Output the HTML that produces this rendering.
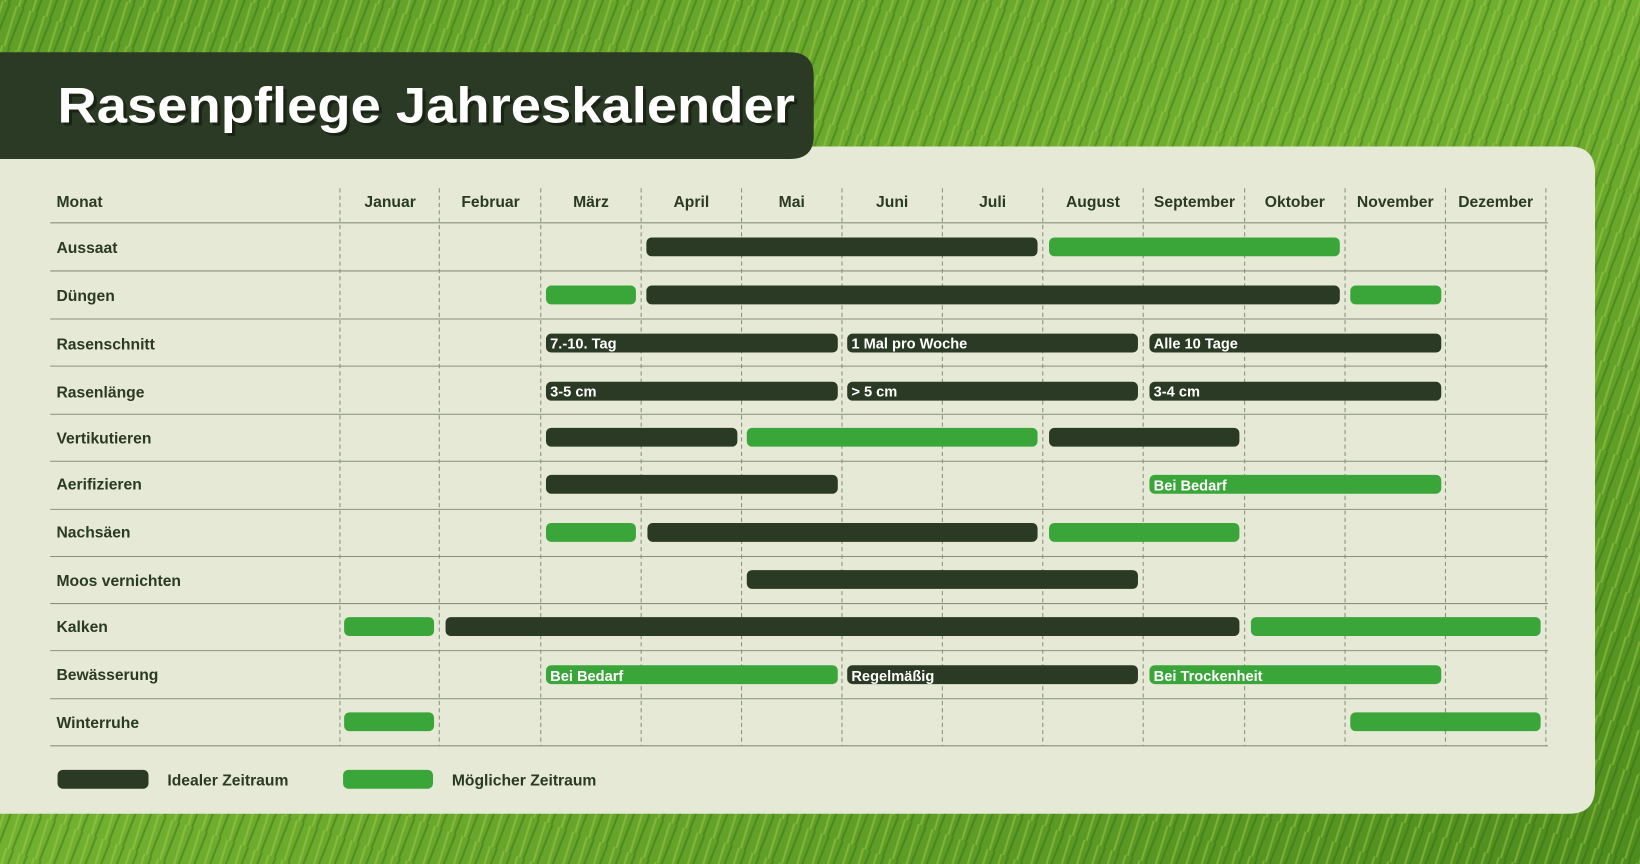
<!DOCTYPE html>
<html><head><meta charset="utf-8"><style>
html,body{margin:0;padding:0;width:1640px;height:864px;overflow:hidden;background:#4a8a1e}
svg{display:block}
text{font-family:"Liberation Sans",sans-serif;font-weight:bold}
</style></head><body>
<svg width="1640" height="864" viewBox="0 0 1568 826" preserveAspectRatio="none" xmlns="http://www.w3.org/2000/svg">
<defs>
<linearGradient id="g" x1="0" y1="0" x2="1" y2="1">
<stop offset="0" stop-color="#5f9e27"/><stop offset="0.5" stop-color="#72b030"/><stop offset="1" stop-color="#4d8c1d"/>
</linearGradient>
<pattern id="blades" width="14" height="40" patternUnits="userSpaceOnUse" patternTransform="rotate(20)">
<rect width="14" height="40" fill="none"/>
<line x1="3" y1="0" x2="5" y2="40" stroke="#a8d050" stroke-width="2" opacity="0.45"/>
<line x1="10" y1="0" x2="9" y2="40" stroke="#2f6212" stroke-width="2" opacity="0.4"/>
</pattern>
</defs>
<rect width="1568" height="826" fill="url(#g)"/>
<rect width="1568" height="826" fill="url(#blades)"/>
<!-- panel -->
<path d="M0 140 H1500 Q1525 140 1525 165 V753 Q1525 778 1500 778 H0 Z" fill="#e5e9d6"/>
<!-- title box -->
<path d="M0 50 H755 Q778 50 778 73 V130 Q778 152 755 152 H0 Z" fill="#2b3a24"/>
<text x="58" y="120" font-size="48" fill="#1a2412" textLength="705" lengthAdjust="spacingAndGlyphs">Rasenpflege Jahreskalender</text>
<text x="55" y="117" font-size="48" fill="#ffffff" textLength="705" lengthAdjust="spacingAndGlyphs">Rasenpflege Jahreskalender</text>
<!-- grid -->
<g stroke="#8a9080" stroke-width="1" stroke-dasharray="4,3">
<line x1="325" y1="180" x2="325" y2="713"/><line x1="420" y1="180" x2="420" y2="713"/><line x1="517" y1="180" x2="517" y2="713"/><line x1="613" y1="180" x2="613" y2="713"/><line x1="709" y1="180" x2="709" y2="713"/><line x1="805" y1="180" x2="805" y2="713"/><line x1="901" y1="180" x2="901" y2="713"/><line x1="997" y1="180" x2="997" y2="713"/><line x1="1093" y1="180" x2="1093" y2="713"/><line x1="1190" y1="180" x2="1190" y2="713"/><line x1="1286" y1="180" x2="1286" y2="713"/><line x1="1382" y1="180" x2="1382" y2="713"/><line x1="1478" y1="180" x2="1478" y2="713"/>
</g>
<g stroke="#8a9080" stroke-width="1">
<line x1="48" y1="213" x2="1480" y2="213"/><line x1="48" y1="259" x2="1480" y2="259"/><line x1="48" y1="305" x2="1480" y2="305"/><line x1="48" y1="350" x2="1480" y2="350"/><line x1="48" y1="396" x2="1480" y2="396"/><line x1="48" y1="441" x2="1480" y2="441"/><line x1="48" y1="487" x2="1480" y2="487"/><line x1="48" y1="532" x2="1480" y2="532"/><line x1="48" y1="577" x2="1480" y2="577"/><line x1="48" y1="622" x2="1480" y2="622"/><line x1="48" y1="668" x2="1480" y2="668"/><line x1="48" y1="713" x2="1480" y2="713"/>
</g>
<g font-size="15" fill="#2b3a24">
<text x="54" y="198">Monat</text>
<g text-anchor="middle">
<text x="373" y="198">Januar</text><text x="469" y="198">Februar</text><text x="565" y="198">März</text><text x="661" y="198">April</text><text x="757" y="198">Mai</text><text x="853" y="198">Juni</text><text x="949" y="198">Juli</text><text x="1045" y="198">August</text><text x="1142" y="198">September</text><text x="1238" y="198">Oktober</text><text x="1334" y="198">November</text><text x="1430" y="198">Dezember</text>
</g>
<text x="54" y="242">Aussaat</text><text x="54" y="288">Düngen</text><text x="54" y="334">Rasenschnitt</text><text x="54" y="380">Rasenlänge</text><text x="54" y="424">Vertikutieren</text><text x="54" y="468">Aerifizieren</text><text x="54" y="514">Nachsäen</text><text x="54" y="560">Moos vernichten</text><text x="54" y="604">Kalken</text><text x="54" y="650">Bewässerung</text><text x="54" y="696">Winterruhe</text>
<text x="160" y="751">Idealer Zeitraum</text><text x="432" y="751">Möglicher Zeitraum</text>
</g>
<!-- bars -->
<g>
<g fill="#2b3a24">
<rect x="618" y="227" width="374" height="18" rx="5"/>
<rect x="618" y="273" width="663" height="18" rx="5"/>
<rect x="522" y="319" width="279" height="18" rx="5"/><rect x="810" y="319" width="278" height="18" rx="5"/><rect x="1099" y="319" width="279" height="18" rx="5"/>
<rect x="522" y="365" width="279" height="18" rx="5"/><rect x="810" y="365" width="278" height="18" rx="5"/><rect x="1099" y="365" width="279" height="18" rx="5"/>
<rect x="522" y="409" width="183" height="18" rx="5"/><rect x="1003" y="409" width="182" height="18" rx="5"/>
<rect x="522" y="454" width="279" height="18" rx="5"/>
<rect x="619" y="500" width="373" height="18" rx="5"/>
<rect x="714" y="545" width="374" height="18" rx="5"/>
<rect x="426" y="590" width="759" height="18" rx="5"/>
<rect x="810" y="636" width="278" height="18" rx="5"/>
<rect x="55" y="736" width="87" height="18" rx="5"/>
</g>
<g fill="#3aa63a">
<rect x="1003" y="227" width="278" height="18" rx="5"/>
<rect x="522" y="273" width="86" height="18" rx="5"/><rect x="1291" y="273" width="87" height="18" rx="5"/>
<rect x="714" y="409" width="278" height="18" rx="5"/>
<rect x="1099" y="454" width="279" height="18" rx="5"/>
<rect x="522" y="500" width="86" height="18" rx="5"/><rect x="1003" y="500" width="182" height="18" rx="5"/>
<rect x="329" y="590" width="86" height="18" rx="5"/><rect x="1196" y="590" width="277" height="18" rx="5"/>
<rect x="522" y="636" width="279" height="18" rx="5"/><rect x="1099" y="636" width="279" height="18" rx="5"/>
<rect x="329" y="681" width="86" height="18" rx="5"/><rect x="1291" y="681" width="182" height="18" rx="5"/>
<rect x="328" y="736" width="86" height="18" rx="5"/>
</g>
</g>
<g font-size="14" fill="#ffffff">
<text x="526" y="333">7.-10. Tag</text><text x="814" y="333">1 Mal pro Woche</text><text x="1103" y="333">Alle 10 Tage</text>
<text x="526" y="379">3-5 cm</text><text x="814" y="379">&gt; 5 cm</text><text x="1103" y="379">3-4 cm</text>
<text x="1103" y="469">Bei Bedarf</text>
<text x="526" y="651">Bei Bedarf</text><text x="814" y="651">Regelmäßig</text><text x="1103" y="651">Bei Trockenheit</text>
</g>
</svg>
</body></html>
